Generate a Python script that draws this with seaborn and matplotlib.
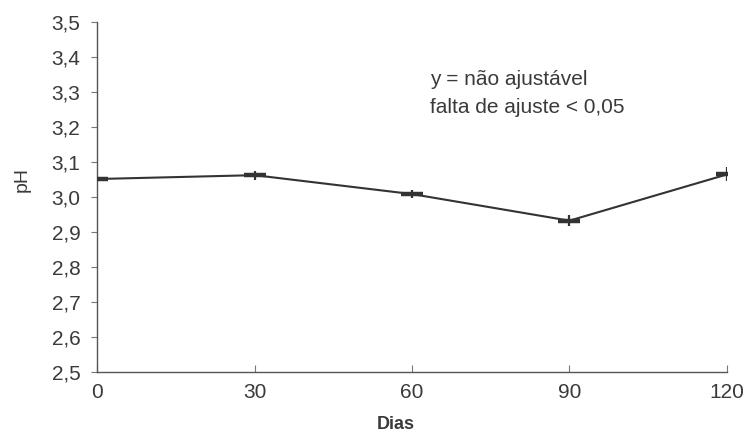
import matplotlib
matplotlib.use("Agg")
import matplotlib.pyplot as plt
import seaborn as sns
import pandas as pd

days = [0, 30, 60, 90, 120]
ph = [3.051, 3.062, 3.008, 2.932, 3.064]
ph_err = [0.009, 0.013, 0.012, 0.016, 0.020]
yticks = [2.5, 2.6, 2.7, 2.8, 2.9, 3.0, 3.1, 3.2, 3.3, 3.4, 3.5]
ytick_labels = ["2,5", "2,6", "2,7", "2,8", "2,9", "3,0", "3,1", "3,2", "3,3", "3,4", "3,5"]
xticks = [0, 30, 60, 90, 120]
annot_lines = ["y = não ajustável", "falta de ajuste < 0,05"]

sns.set_theme(style="white")
plt.rcParams["font.family"] = ["Liberation Sans", "DejaVu Sans"]

df = pd.DataFrame({"Dias": days, "pH": ph})
fig = plt.figure(figsize=(7.47, 4.37), dpi=100)
ax = fig.add_axes([0.130, 0.149, 0.843, 0.801])

dark = "#333333"
txt = "#3a3a3a"
sns.lineplot(data=df, x="Dias", y="pH", ax=ax, color=dark, linewidth=1.5)
ax.errorbar(days, ph, yerr=ph_err, fmt="none", ecolor=dark, elinewidth=1.6,
            capsize=0)
ax.scatter(days, ph, marker="_", s=240, color=dark, linewidths=3.2, zorder=3)

ax.set_xlim(0, 120)
ax.set_ylim(2.5, 3.5)
ax.set_yticks(yticks)
ax.set_yticklabels(ytick_labels)
ax.set_xticks(xticks)
ax.set_xticklabels([str(d) for d in xticks])

for s in ["top", "right"]:
    ax.spines[s].set_visible(False)
for s in ["left", "bottom"]:
    ax.spines[s].set_color("#555555")
    ax.spines[s].set_linewidth(1.0)

ax.tick_params(axis="y", direction="out", length=4, width=0.8, color="#777777",
               labelsize=15, labelcolor=txt, pad=8, left=True)
ax.tick_params(axis="x", direction="in", length=5, width=0.8, color="#777777",
               labelsize=15, labelcolor=txt, pad=8, bottom=True)

ax.set_xlabel("Dias", fontsize=13, fontweight="bold", color=txt)
ax.xaxis.set_label_coords(0.475, -0.125)
ax.set_ylabel("pH", fontsize=14, color=txt)
ax.yaxis.set_label_coords(-0.106, 0.551)

ax.text(0.529, 0.836, annot_lines[0], transform=ax.transAxes, fontsize=15,
        color=txt, va="center", ha="left")
ax.text(0.529, 0.755, annot_lines[1], transform=ax.transAxes, fontsize=15,
        color=txt, va="center", ha="left")

fig.savefig("out.png", dpi=100)
